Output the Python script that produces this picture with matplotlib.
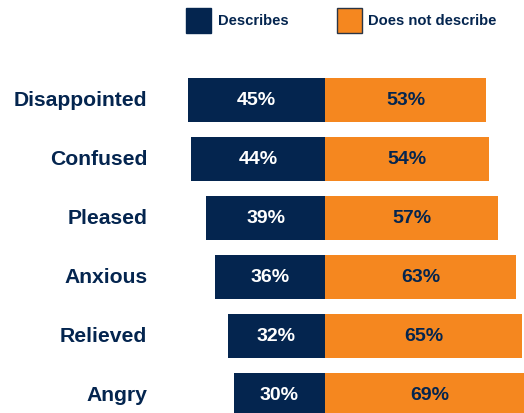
import matplotlib.pyplot as plt
from matplotlib.patches import Rectangle

plt.rcParams['font.family'] = ['Liberation Sans', 'DejaVu Sans']

emotions = ['Disappointed', 'Confused', 'Pleased', 'Anxious', 'Relieved', 'Angry']
describes = [45, 44, 39, 36, 32, 30]
not_describe = [53, 54, 57, 63, 65, 69]

navy = '#04254f'
orange = '#f5871f'

fig = plt.figure(figsize=(5.24, 4.13), dpi=100)
ax = fig.add_axes([0, 0, 1, 1])

# diverging bars, centre line at 0
rows = list(range(len(emotions)))
ax.barh(rows, [-d for d in describes], height=0.75, color=navy)
ax.barh(rows, not_describe, height=0.75, color=orange)

for i, (d, n) in enumerate(zip(describes, not_describe)):
    ax.text(-d / 2, i, f'{d}%', ha='center', va='center', color='white',
            fontsize=14, fontweight='bold')
    ax.text(n / 2, i, f'{n}%', ha='center', va='center', color=navy,
            fontsize=14, fontweight='bold')
    ax.text(-58.5, i, emotions[i], ha='right', va='center', color=navy,
            fontsize=15.2, fontweight='bold')

ax.set_xlim(-106.9, 65.5)
ax.set_ylim(5.305, -1.695)
ax.axis('off')

# legend drawn by hand at the top
W, H = 524, 413
fig.add_artist(Rectangle((186 / W, 1 - 33 / H), 25 / W, 25 / H,
                         facecolor=navy, edgecolor=navy, transform=fig.transFigure))
fig.text(218 / W, 1 - 21 / H, 'Describes', ha='left', va='center',
         color=navy, fontsize=10.6, fontweight='bold')
fig.add_artist(Rectangle((337 / W, 1 - 33 / H), 25 / W, 25 / H,
                         facecolor=orange, edgecolor='#2a3545', linewidth=1,
                         transform=fig.transFigure))
fig.text(368 / W, 1 - 21 / H, 'Does not describe', ha='left', va='center',
         color=navy, fontsize=10.6, fontweight='bold')

fig.savefig('out.png', dpi=100)
